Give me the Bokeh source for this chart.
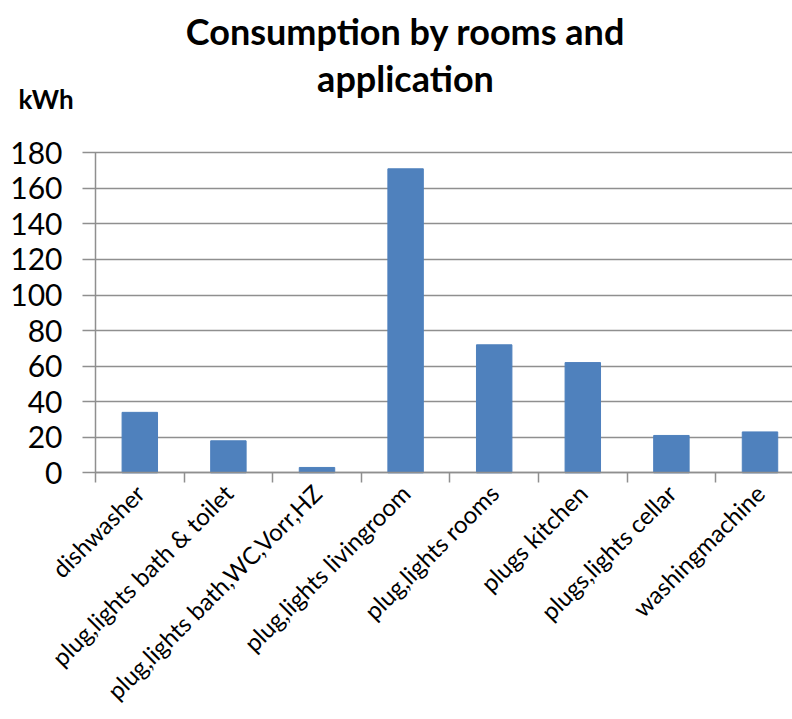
from bokeh.plotting import figure
from bokeh.models import Range1d, FixedTicker, Label
from bokeh.embed import file_html
from bokeh.resources import INLINE
import numpy as np

categories = ["dishwasher", "plug,lights bath & toilet", "plug,lights bath,WC,Vorr,HZ",
              "plug,lights livingroom", "plug,lights rooms", "plugs kitchen",
              "plugs,lights cellar", "washingmachine"]
values = [34, 18, 3, 171, 72, 62, 21, 23]
y_ticks = [0, 20, 40, 60, 80, 100, 120, 140, 160, 180]
title_lines = ["Consumption by rooms and", "application"]
unit_label = "kWh"

FONT = "Lato"
BAR = "#4F81BD"
AXIS = "#8f8f8f"

n = len(categories)
positions = [i + 0.5 for i in range(n)]
boundaries = list(range(n + 1))

# pixel geometry of the canvas (frame covers the whole canvas)
W, H = 792, 719
X0_PX, CAT_PX = 95, 88.6          # y-axis position and category width
Y0_PX, Y180_PX = 472.3, 152.3     # pixel rows of 0 and 180
ppu = (Y0_PX - Y180_PX) / 180.0

x_start = -X0_PX / CAT_PX
x_end = (W - X0_PX) / CAT_PX
y_start = -(H - Y0_PX) / ppu
y_end = Y0_PX / ppu

p = figure(width=W, height=H, output_backend="svg", toolbar_location=None,
           title=None,
           x_range=Range1d(x_start, x_end), y_range=Range1d(y_start, y_end),
           min_border_left=0, min_border_right=0, min_border_top=0,
           min_border_bottom=0)
p.outline_line_color = None
p.background_fill_color = "white"
p.border_fill_color = "white"
p.xgrid.visible = False
p.ygrid.visible = False

p.vbar(x=positions, top=values, width=0.4, fill_color=BAR, line_color=BAR)

# y axis (its inward ticks act as the horizontal gridlines, drawn beneath bars)
yax = p.yaxis[0]
yax.fixed_location = 0
yax.bounds = (0, 180)
yax.level = "underlay"
yax.ticker = FixedTicker(ticks=y_ticks)
yax.axis_line_color = AXIS
yax.axis_line_width = 1.5
yax.major_tick_line_color = AXIS
yax.major_tick_line_width = 1.5
yax.major_tick_out = 13
yax.major_tick_in = 720
yax.minor_tick_line_color = None
yax.major_label_text_font = FONT
yax.major_label_text_font_size = "30px"
yax.major_label_text_color = "#000000"
yax.major_label_standoff = 20

# x axis
xax = p.xaxis[0]
xax.fixed_location = 0
xax.bounds = (0, x_end)
xax.ticker = FixedTicker(ticks=positions, minor_ticks=boundaries)
xax.major_label_overrides = {pos: name for pos, name in zip(positions, categories)}
xax.axis_line_color = AXIS
xax.axis_line_width = 1.5
xax.major_tick_line_color = None
xax.major_tick_out = 0
xax.major_tick_in = 0
xax.minor_tick_line_color = AXIS
xax.minor_tick_line_width = 1.5
xax.minor_tick_out = 10
xax.minor_tick_in = 0
xax.major_label_orientation = np.pi / 4
xax.major_label_text_font = FONT
xax.major_label_text_font_size = "24px"
xax.major_label_text_color = "#000000"
xax.major_label_standoff = 6

# title and unit label
def to_x(px):
    return (px - X0_PX) / CAT_PX

def to_y(py):
    return (Y0_PX - py) / ppu

p.add_layout(Label(x=to_x(405), y=to_y(30), text=title_lines[0], text_align="center",
                   text_baseline="middle", text_font=FONT, text_font_style="bold",
                   text_font_size="36px", text_color="#000000"))
p.add_layout(Label(x=to_x(405), y=to_y(77), text=title_lines[1], text_align="center",
                   text_baseline="middle", text_font=FONT, text_font_style="bold",
                   text_font_size="36px", text_color="#000000"))
p.add_layout(Label(x=to_x(18), y=to_y(98), text=unit_label, text_align="left",
                   text_baseline="middle", text_font=FONT, text_font_style="bold",
                   text_font_size="26px", text_color="#000000"))

open("out.html", "w").write(file_html(p, INLINE))
